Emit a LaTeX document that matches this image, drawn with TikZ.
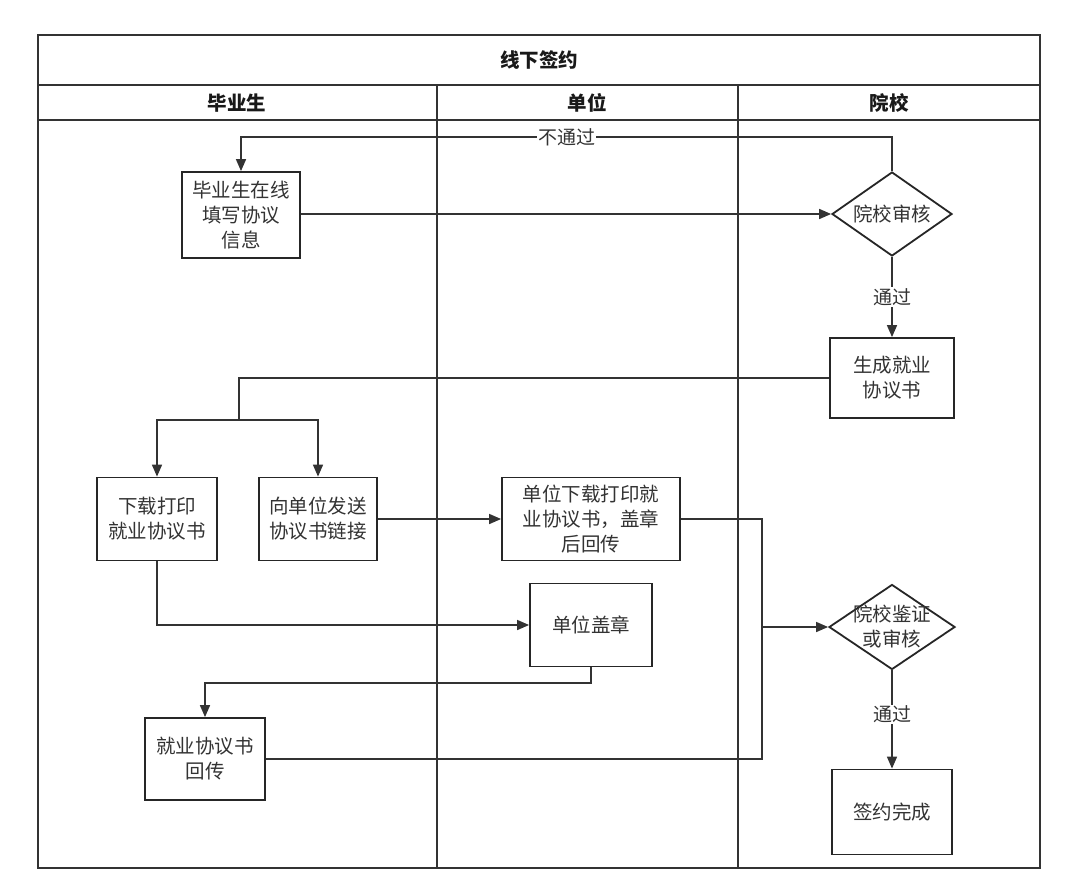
\documentclass[tikz,border=0pt]{standalone}
\usepackage{fontspec}
\setmainfont{Noto Sans CJK SC}
\usetikzlibrary{arrows.meta, positioning, shapes.geometric}

\begin{document}
\begin{tikzpicture}
	[
		x=1pt, y=-1pt,
		line width=1.6pt,
		draw=black!80,
		>={Triangle[length=12pt, width=10pt]},
		lane/.style={
				draw=black!80,
				line width=1.8pt,
			},
		head/.style={
				font=\fontsize{19.5}{24}\selectfont\bfseries,
				text=black!90,
			},
		procBox/.style={
				rectangle,
				draw=black!85,
				fill=white,
				line width=1.8pt,
				align=center,
				inner sep=2pt,
				text=black!80,
				font=\fontsize{19.5}{25}\selectfont,
			},
		decision/.style={
				diamond,
				aspect=1.5,
				draw=black!85,
				fill=white,
				line width=1.8pt,
				align=center,
				inner sep=-9pt,
				minimum width=126pt,
				minimum height=85pt,
				text=black!80,
				font=\fontsize{19.5}{25}\selectfont,
			},
		flowLabel/.style={
				fill=white,
				inner sep=1pt,
				text=black!80,
				font=\fontsize{19}{22}\selectfont,
			},
	]
	\useasboundingbox (0,0) rectangle (1067,875);
	\fill[white] (0,0) rectangle (1067,875);

	% swimlane frame
	\draw[lane] (38,35) rectangle (1040,868);
	\draw[lane] (38,85) -- (1040,85);
	\draw[lane] (38,120) -- (1040,120);
	\draw[lane] (437,85) -- (437,868);
	\draw[lane] (738,85) -- (738,868);
	\node[head] (title) at (539,60) {线下签约};
	\node[head] (laneGrad) at (237,103) {毕业生};
	\node[head] (laneUnit) at (587,103) {单位};
	\node[head] (laneSchool) at (889,103) {院校};

	% steps
	\node[procBox, minimum width=118pt, minimum height=86pt] (fill) at (241,215) {毕业生在线\\填写协议\\信息};
	\node[decision, minimum width=120pt, minimum height=84pt] (audit) at (892,214) {院校审核};
	\node[procBox, minimum width=124pt, minimum height=80pt] (gen) at (892,378) {生成就业\\协议书};
	\node[procBox, minimum width=120pt, minimum height=83pt] (dl) at (157,519) {下载打印\\就业协议书};
	\node[procBox, minimum width=118pt, minimum height=83pt] (send) at (318,519) {向单位发送\\协议书链接};
	\node[procBox, minimum width=178pt, minimum height=83pt] (unitDl) at (591,519) {单位下载打印就\\业协议书，盖章\\后回传};
	\node[procBox, minimum width=122pt, minimum height=83pt] (stamp) at (591,625) {单位盖章};
	\node[decision] (verify) at (892,627) {院校鉴证\\或审核};
	\node[procBox, minimum width=120pt, minimum height=82pt] (back) at (205,759) {就业协议书\\回传};
	\node[procBox, minimum width=120pt, minimum height=85pt] (done) at (892,812) {签约完成};

	\coordinate (loop) at (566,137);
	\coordinate (split) at (239,420);
	\coordinate (merge) at (762,627);
	\coordinate (turn) at (205,683);

	% connectors
	\draw[->] (fill.east |- audit) -- (audit.west);
	\draw[->] (audit.north) -- (audit.north |- loop) -- node[flowLabel] {不通过} (fill.north |- loop) -- (fill.north);
	\draw[->] (audit.south) -- node[flowLabel] {通过} (gen.north);
	\draw (gen.west) -| (split);
	\draw[->] (split) -| (dl.north);
	\draw[->] (split) -| (send.north);
	\draw[->] (send.east) -- (unitDl.west);
	\draw[->] (dl.south) |- (stamp.west);
	\draw (unitDl.east) -| (merge);
	\draw (back.east) -| (merge);
	\draw[->] (merge) -- (verify.west);
	\draw[->] (stamp.south) |- (turn) -- (back.north);
	\draw[->] (verify.south) -- node[flowLabel, pos=0.45] {通过} (done.north);
\end{tikzpicture}
\end{document}
